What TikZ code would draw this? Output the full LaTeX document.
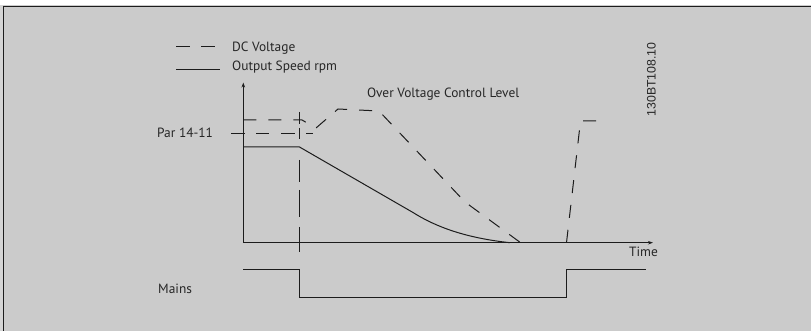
\documentclass[tikz,border=0pt]{standalone}
\usepackage{fontspec}
\setmainfont{PT Sans}
\newfontfamily\codefont{Liberation Sans}
\usetikzlibrary{arrows.meta}
\definecolor{bg}{HTML}{CBCBCB}
\definecolor{strip}{HTML}{D4D4D4}
\definecolor{ink}{HTML}{1C1C1C}
\definecolor{txt}{HTML}{262626}
\begin{document}
\begin{tikzpicture}[x=1pt,y=-1pt,
  lbl/.style={inner sep=0pt, anchor=base west, text=txt, font=\fontsize{13.4}{15}\selectfont},
  dcline/.style={draw=ink, line width=1pt, dash pattern=on 13pt off 12pt},
  spdline/.style={draw=ink, line width=1pt},
  axisline/.style={draw=ink, line width=0.9pt, -{Stealth[length=5pt,width=3.5pt]}}]
\useasboundingbox (0,0) rectangle (811,331);
\fill[bg] (0,0) rectangle (811,331);
\fill[white] (0,0) rectangle (811,5.5);
\fill[strip] (0,5.5) rectangle (3.2,331);
\draw[ink,line width=1.3pt] (3.8,331) -- (3.8,6.2) -- (811,6.2);

% legend
\coordinate (l1a) at (176,46.5); \coordinate (l1b) at (215,46.5);
\coordinate (l2a) at (176,69.3); \coordinate (l2b) at (220,69.3);
\draw[dcline, dash pattern=on 14pt off 11pt] (l1a) -- (l1b);
\draw[spdline] (l2a) -- (l2b);
\node[lbl] (dcv) at (232,51.7) {DC Voltage};
\node[lbl] (osr) at (232,70.7) {Output Speed rpm};

% axes
\coordinate (O) at (243.3,242.7);
\coordinate (Ytop) at (243.3,82.5);
\coordinate (Xend) at (653,242.7);
\draw[axisline] (O) -- (Ytop);
\draw[axisline] (O) -- (Xend);
\node[lbl] (time) at (629,256.7) {Time};
\node[lbl] (par) at (157,137.7) {Par 14-11};
\node[lbl] (ovc) at (367,97.7) {Over Voltage Control Level};
\node[lbl] (mains) at (158,293.3) {Mains};
\node[inner sep=0pt, anchor=base west, rotate=90, text=txt,
      font=\codefont\fontsize{12.3}{14}\selectfont] (code) at (655.5,116.7) {130BT108.10};

% DC voltage
\coordinate (d0) at (243.3,120);
\coordinate (d1) at (302,120);
\coordinate (d2) at (316,128);
\coordinate (d3) at (338,109);
\coordinate (d4) at (379,111);
\coordinate (d5) at (465,202);
\coordinate (d6) at (521,243);
\draw[dcline] (d0) -- (d1) -- (d2) -- (d3) -- (d4) -- (d5) -- (d6);
\coordinate (p0) at (231,133.5);
\coordinate (p1) at (313,133.5);
\draw[dcline, dash pattern=on 14pt off 11pt on 13pt off 12pt] (p0) -- (p1);
\coordinate (r0) at (566.5,242.7);
\coordinate (r1) at (580.5,121);
\coordinate (r2) at (599,121);
\draw[dcline] (r0) -- (r1) -- (r2);

% vertical dashed marker
\coordinate (v0) at (299.5,112);
\coordinate (v1) at (299.5,252);
\draw[draw=ink, line width=1pt, dash pattern=on 12pt off 4pt on 11pt off 21pt on 22pt off 8pt on 27pt off 10pt on 25pt off 50pt] (v0) -- (v1);

% output speed
\coordinate (s0) at (243.3,147);
\coordinate (s1) at (299.5,147);
\coordinate (s2) at (413,212.5);
\coordinate (s3) at (510,242.7);
\draw[spdline] (s0) -- (s1) -- (s2) .. controls (436,227) and (466,238) .. (s3);

% mains
\coordinate (m0) at (243.3,269.6);
\coordinate (m1) at (299.5,269.6);
\coordinate (m2) at (299.5,297.3);
\coordinate (m3) at (566.5,297.3);
\coordinate (m4) at (566.5,269.8);
\coordinate (m5) at (645.7,269.8);
\draw[spdline] (m0) -- (m1) -- (m2) -- (m3) -- (m4) -- (m5);
\end{tikzpicture}
\end{document}
